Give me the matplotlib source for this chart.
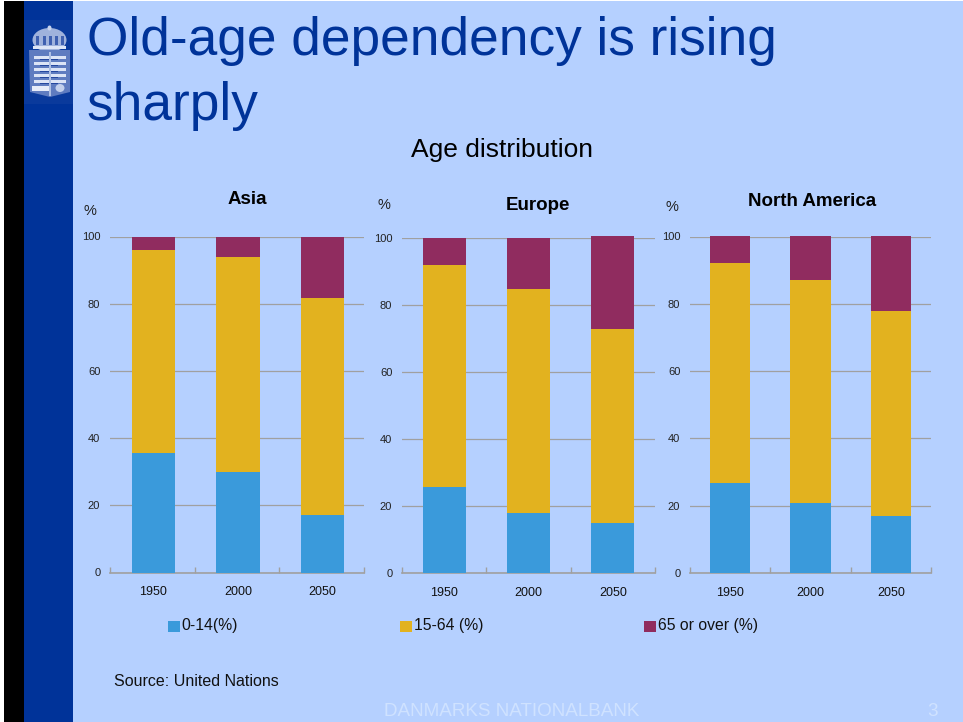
import matplotlib
matplotlib.use("Agg")
import matplotlib.pyplot as plt
from matplotlib.patches import Rectangle, Ellipse, Polygon

plt.rcParams["font.family"] = ["Liberation Sans", "DejaVu Sans"]

# Chart data
years = ["1950", "2000", "2050"]
regions = ["Asia", "Europe", "North America"]
groups = ["0-14(%)", "15-64 (%)", "65 or over (%)"]
group_colors = ["#3A9ADB", "#E2B21F", "#902C5F"]

asia_young = [35.6, 30, 17]
asia_working = [60.4, 64, 64.8]
asia_old = [4, 6, 18.2]

europe_young = [25.6, 17.8, 14.8]
europe_working = [66.3, 66.9, 58]
europe_old = [8.1, 15.3, 27.8]

namerica_young = [26.8, 20.8, 17]
namerica_working = [65.4, 66.4, 61]
namerica_old = [7.8, 12.8, 22]

BG = "#B5D0FF"
NAVY = "#003399"
W, H = 963, 722

fig = plt.figure(figsize=(W / 100, H / 100), dpi=100, facecolor="white")

# full figure axes in pixel coordinates for the slide furniture
slide = fig.add_axes([0, 0, 1, 1], zorder=0)
slide.set_xlim(0, W)
slide.set_ylim(H, 0)
slide.axis("off")
slide.add_patch(Rectangle((4, 1), W - 4, H, color=BG, lw=0))
slide.add_patch(Rectangle((4, 1), 20, H, color="black", lw=0))
slide.add_patch(Rectangle((24, 1), 49, H, color=NAVY, lw=0))


def draw_crest(ax):
    # rough version of the crest in the top left corner
    ax.add_patch(Rectangle((24, 20), 49, 84, color="#0A3A9C", lw=0))
    ax.add_patch(Ellipse((49.5, 40), 34, 24, color="#9FB2DC", lw=0))
    ax.add_patch(Ellipse((49.5, 28), 4, 5, color="#C8D4EE", lw=0))
    for x in [37, 44, 50, 56, 62]:
        ax.add_patch(Rectangle((x - 1.5, 36), 3, 9, color="#3F60B0", lw=0))
    ax.add_patch(Rectangle((33, 46), 33, 3, color="#DDE5F6", lw=0))
    ax.add_patch(Polygon([(29, 50), (70, 50), (70, 92), (50, 97), (30, 92)],
                         color="#5F7CC0", lw=0))
    for y in [56, 62, 68, 74, 80]:
        ax.add_patch(Rectangle((34, y), 32, 2.6, color="#DCE4F6", lw=0))
        ax.add_patch(Rectangle((40, y + 2.6), 18, 1.6, color="#24479F", lw=0))
    ax.add_patch(Rectangle((32, 86), 17, 5, color="#E6ECF9", lw=0))
    ax.add_patch(Ellipse((60, 88), 9, 8, color="#C3D0EC", lw=0))
    ax.add_patch(Rectangle((49, 52), 1.5, 44, color="#AFC0E4", lw=0))


draw_crest(slide)

slide.text(87, 55, "Old-age dependency is rising", color=NAVY, fontsize=38.3, va="baseline")
slide.text(86, 120, "sharply", color=NAVY, fontsize=38.3, va="baseline")
slide.text(502, 149.5, "Age distribution", color="black", fontsize=19, ha="center", va="center")

slide.text(114, 681, "Source: United Nations", color="#111111", fontsize=11.5, va="center")
slide.text(512, 711, "DANMARKS NATIONALBANK", color="#CFE2FF", fontsize=13.6, ha="center", va="center")
slide.text(933, 711, "3", color="#CFE2FF", fontsize=13.6, ha="center", va="center")

# legend, spread out across the slide
legend_x = [168, 400, 644]
legend_text_x = [181.5, 414, 658]
for lx, tx, label, color in zip(legend_x, legend_text_x, groups, group_colors):
    slide.add_patch(Rectangle((lx, 621), 11.5, 11, color=color, lw=0))
    slide.text(tx, 625.5, label, color="#111111", fontsize=11.3, va="center")


def draw_panel(left, right, top, bottom, title, title_x, title_y, pct_x, pct_y,
               young, working, old, shift=0.0, width=0.51):
    ax = fig.add_axes([left / W, 1 - bottom / H, (right - left) / W, (bottom - top) / H],
                      zorder=1)
    ax.patch.set_alpha(0)
    pos = range(len(years))
    base2 = [a + b for a, b in zip(young, working)]
    ax.bar(pos, young, width=width, color=group_colors[0], zorder=3)
    ax.bar(pos, working, width=width, bottom=young, color=group_colors[1], zorder=3)
    bars = ax.bar(pos, old, width=width, bottom=base2, color=group_colors[2], zorder=3)
    for b in bars:
        b.set_clip_on(False)

    ax.set_xlim(-0.5 - shift, 2.5 - shift)
    ax.set_ylim(0, 100)
    ax.set_yticks(range(0, 101, 20))
    ax.grid(axis="y", color="#A0A0A0", lw=0.9, zorder=1)
    ax.set_axisbelow(True)
    ax.set_xticks(list(pos))
    ax.set_xticklabels(years)
    ax.set_xticks([-0.5 - shift, 0.5 - shift, 1.5 - shift, 2.5 - shift], minor=True)
    ax.tick_params(axis="x", which="major", length=0, labelsize=9, labelcolor="#111111", pad=10)
    ax.tick_params(axis="x", which="minor", direction="in", length=4, width=1, color="#A0A0A0")
    ax.tick_params(axis="y", length=0, labelsize=8, labelcolor="#222222", pad=7)
    for side in ["top", "left", "right"]:
        ax.spines[side].set_visible(False)
    ax.spines["bottom"].set_color("#A0A0A0")
    ax.spines["bottom"].set_linewidth(1.2)

    slide.text(title_x, title_y, title, color="black", fontsize=13.5, fontweight="bold",
               ha="center", va="center")
    slide.text(pct_x, pct_y, "%", color="#222222", fontsize=10.5, ha="center", va="center")


draw_panel(110, 364, 236.5, 572.5, regions[0], 247, 199, 90, 211,
           asia_young, asia_working, asia_old, shift=0.012)
draw_panel(402, 655, 238, 572.7, regions[1], 538, 205, 384, 205,
           europe_young, europe_working, europe_old)
draw_panel(690, 931, 236.5, 573, regions[2], 812, 202, 672, 207,
           namerica_young, namerica_working, namerica_old, width=0.5)

fig.savefig("out.png", dpi=100, facecolor="white")
